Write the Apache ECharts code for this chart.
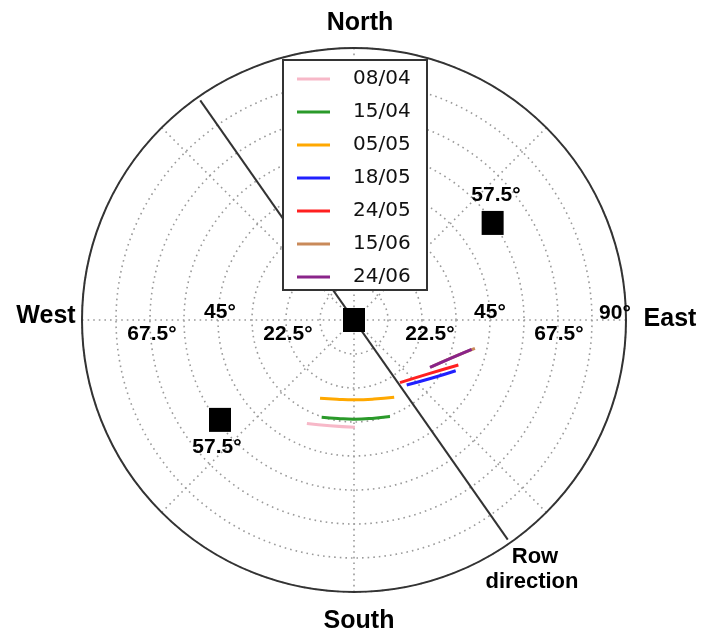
<!DOCTYPE html>
<html>
<head>
<meta charset="utf-8">
<script src="https://cdn.jsdelivr.net/npm/echarts@6/dist/echarts.min.js"></script>
<style>html,body{margin:0;padding:0;background:#fff;}#c{width:701px;height:634px;}</style>
</head>
<body>
<div id="c"></div>
<script>
// Data: each point is [zenith angle (deg), azimuth (deg, clockwise from North)]
const dates = ['08/04', '15/04', '05/05', '18/05', '24/05', '15/06', '24/06'];
const colors = ['#f7b8c8', '#2a9a2a', '#ffa800', '#2020ff', '#ff2020', '#c98a5a', '#8a248a'];
const path0804 = [[37.6, 204.5], [35.9, 192.8], [35.5, 179.5]];
const path1504 = [[33.9, 198.4], [33.0, 189.2], [32.8, 180], [33.1, 169.6], [34.1, 159.6]];
const path0505 = [[28.2, 203.5], [26.8, 192.1], [26.4, 180], [27.0, 165.8], [28.8, 152.5]];
const path1805 = [[27.7, 141.0], [32.2, 126.6], [37.6, 116.5]];
const path2405 = [[25.7, 143.7], [30.7, 125.1], [37.6, 113.3]];
const path1506 = [[29.8, 121.5], [34.6, 111.2], [41.1, 103.2]];
const path2406 = [[29.6, 121.9], [34.5, 111.4], [40.1, 104.0]];
const paths = [path0804, path1504, path0505, path1805, path2405, path1506, path2406];
const sunMarks = [[0, 0], [56, 55], [55.3, 233.3]];
const rowDirection = [[88.7, 325], [88.7, 145]];
const radiusTicks = ['22.5°', '45°', '67.5°', '90°'];

const chart = echarts.init(document.getElementById('c'));
const dotted = { color: '#9a9a9a', width: 1.6, type: [1.6, 4] };
const series = [{
  type: 'line', coordinateSystem: 'polar', data: rowDirection, symbol: 'none',
  lineStyle: { color: '#333', width: 2 }, silent: true, z: 1
}];
dates.forEach((d, i) => {
  series.push({
    name: d, type: 'line', coordinateSystem: 'polar', data: paths[i],
    symbol: 'none', smooth: true, color: colors[i],
    lineStyle: { color: colors[i], width: 3 }, z: 2
  });
});
series.push({
  type: 'scatter', coordinateSystem: 'polar', data: sunMarks,
  symbol: 'rect', symbolSize: [22, 24], itemStyle: { color: '#000', opacity: 1 }, z: 3
});

const bold = (s) => 'bold ' + s + 'px "Liberation Sans", Arial, sans-serif';
const txt = (t, x, y, size) => ({
  type: 'text', x: x, y: y, z: 10,
  style: { text: t, font: bold(size), textAlign: 'center', textVerticalAlign: 'middle', fill: '#000' }
});

chart.setOption({
  animation: false,
  backgroundColor: '#fff',
  polar: { center: [354, 320], radius: 272 },
  angleAxis: {
    type: 'value', min: 0, max: 360, interval: 45, startAngle: 90, clockwise: true,
    axisLine: { show: true, lineStyle: { color: '#333', width: 2 } },
    axisTick: { show: false }, axisLabel: { show: false },
    splitLine: { show: true, lineStyle: dotted }
  },
  radiusAxis: {
    type: 'value', min: 0, max: 90, interval: 11.25,
    axisLine: { show: false }, axisTick: { show: false }, axisLabel: { show: false },
    splitLine: { show: true, lineStyle: dotted }
  },
  legend: {
    data: dates, orient: 'vertical', left: 297, top: 69, padding: 0,
    itemWidth: 33, itemHeight: 3, itemGap: 13, icon: 'rect', selectedMode: false,
    textStyle: { fontFamily: '"DejaVu Sans"', fontSize: 20, color: '#111', padding: [0, 0, 0, 18], lineHeight: 20 },
    z: 6
  },
  graphic: [
    { type: 'rect', shape: { x: 283, y: 60, width: 144, height: 230 }, z: 5,
      style: { fill: '#fff', stroke: '#333', lineWidth: 2 } },
    txt('North', 360, 23, 25),
    txt('South', 359, 621, 25),
    txt('West', 46, 316, 25),
    txt('East', 670, 319, 25),
    txt(radiusTicks[0], 288, 334, 21),
    txt(radiusTicks[0], 430, 334, 21),
    txt(radiusTicks[1], 220, 312, 21),
    txt(radiusTicks[1], 490, 312, 21),
    txt(radiusTicks[2], 152, 334, 21),
    txt(radiusTicks[2], 559, 334, 21),
    txt(radiusTicks[3], 615, 313, 21),
    txt('57.5°', 496, 195, 21),
    txt('57.5°', 217, 447, 21),
    txt('Row', 535, 557, 22),
    txt('direction', 532, 582, 22)
  ],
  series: series
});
</script>
</body>
</html>
